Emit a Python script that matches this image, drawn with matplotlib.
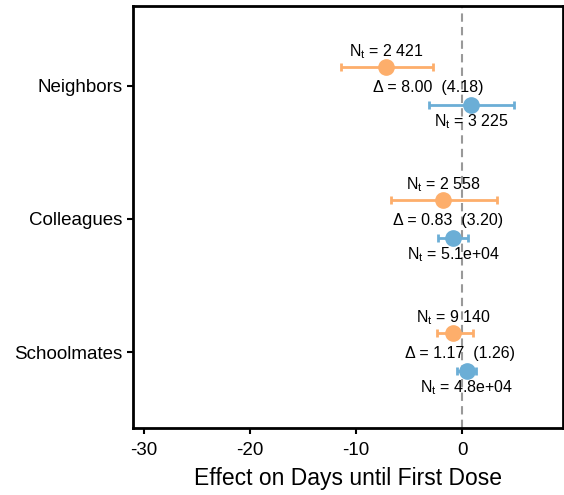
import matplotlib.pyplot as plt

plt.rcParams['font.family'] = ['Liberation Sans', 'DejaVu Sans']
plt.rcParams['mathtext.fontset'] = 'custom'
plt.rcParams['mathtext.rm'] = 'Liberation Sans'
plt.rcParams['mathtext.it'] = 'Liberation Sans:italic'

# data
groups = ['Neighbors', 'Colleagues', 'Schoolmates']
ypos = [3, 2, 1]

treat_est = [-7.2, -1.8, -0.85]
treat_lo = [-11.4, -6.7, -2.4]
treat_hi = [-2.8, 3.3, 1.0]
treat_n = ['2 421', '2 558', '9 140']

ctrl_est = [0.85, -0.85, 0.4]
ctrl_lo = [-3.1, -2.3, -0.5]
ctrl_hi = [4.9, 0.5, 1.3]
ctrl_n = ['3 225', '5.1e+04', '4.8e+04']

delta = ['8.00', '0.83', '1.17']
delta_se = ['4.18', '3.20', '1.26']

orange = '#fdae6b'
blue = '#6baed6'
off = 0.14

fig = plt.figure(figsize=(5.64, 4.95), dpi=100)
ax = fig.add_axes([133 / 564, 1 - 428 / 495, 430 / 564, 422 / 495])

ax.axvline(0, color='#999999', ls=(0, (4, 2.5)), lw=1.5, zorder=0)

for i, y in enumerate(ypos):
    yo = y + off
    yb = y - off
    ax.errorbar(treat_est[i], yo,
                xerr=[[treat_est[i] - treat_lo[i]], [treat_hi[i] - treat_est[i]]],
                fmt='o', color=orange, ms=11, elinewidth=2, capsize=3, capthick=2)
    ax.errorbar(ctrl_est[i], yb,
                xerr=[[ctrl_est[i] - ctrl_lo[i]], [ctrl_hi[i] - ctrl_est[i]]],
                fmt='o', color=blue, ms=11, elinewidth=2, capsize=3, capthick=2)
    ax.text(treat_est[i], yo + 0.05, r'N$_\mathrm{t}$ = ' + treat_n[i],
            ha='center', va='bottom', fontsize=11.5)
    ax.text((treat_est[i] + ctrl_est[i]) / 2, y - 0.01, 'Δ = ' + delta[i] + '  (' + delta_se[i] + ')',
            ha='center', va='center', fontsize=11.5)
    ax.text(ctrl_est[i], yb - 0.06, r'N$_\mathrm{t}$ = ' + ctrl_n[i],
            ha='center', va='top', fontsize=11.5)

ax.set_xlim(-31.05, 9.5)
ax.set_ylim(0.43, 3.6)
ax.set_xticks([-30, -20, -10, 0])
ax.set_xticklabels(['-30', '-20', '-10', '0'])
ax.set_yticks(ypos)
ax.set_yticklabels(groups)
ax.tick_params(labelsize=13.5, width=1.5, length=4)
ax.tick_params(axis='x', pad=6)
ax.set_xlabel('Effect on Days until First Dose', fontsize=16.5, labelpad=6)
for s in ax.spines.values():
    s.set_linewidth(2)

fig.savefig('out.png', dpi=100)
